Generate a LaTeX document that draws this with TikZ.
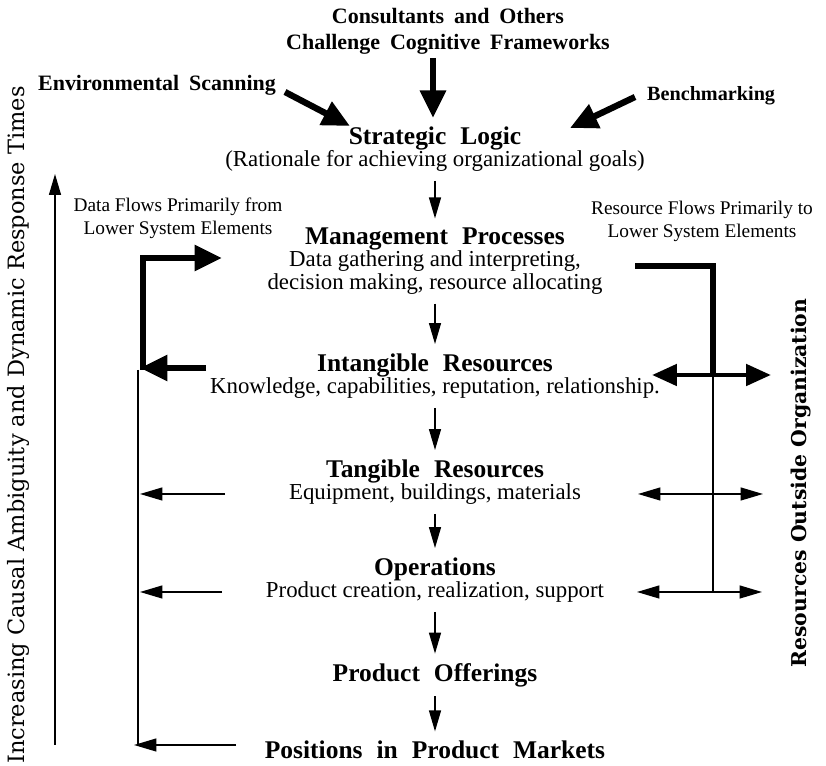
\documentclass[tikz,border=0pt]{standalone}
\usepackage{fontspec}
\setmainfont{Liberation Serif}
\newfontfamily\slabfont{DejaVu Serif}
\usetikzlibrary{arrows.meta,positioning,calc}
\newcommand{\hd}[1]{{\fontsize{14.5}{15}\selectfont\bfseries\spaceskip=0.55em\relax #1}}
\newcommand{\lblfont}{\fontsize{12.5}{15}\selectfont\bfseries\spaceskip=0.45em\relax}

\begin{document}
\begin{tikzpicture}[x=0.02cm,y=-0.02cm,
 stage/.style={align=center,inner sep=1pt,font=\fontsize{13}{12.6}\selectfont},
 inlabel/.style={align=center,inner sep=1pt,font=\lblfont},
 smalllabel/.style={align=center,inner sep=1pt,font=\fontsize{11}{13}\selectfont},
 thickline/.style={line width=3.6pt},
 thickarr/.style={line width=3.6pt,-{Triangle[length=0.55cm,width=0.5cm]}},
 dblthick/.style={line width=2.8pt,{Triangle[length=0.5cm,width=0.42cm]}-{Triangle[length=0.5cm,width=0.42cm]}},
 flowarr/.style={line width=0.8pt,-{Triangle[length=0.42cm,width=0.24cm]},shorten <=0.15cm,shorten >=0.15cm},
 sidearr/.style={line width=0.8pt,-{Triangle[length=0.45cm,width=0.26cm]}},
 dblthin/.style={line width=0.8pt,{Triangle[length=0.45cm,width=0.26cm]}-{Triangle[length=0.45cm,width=0.26cm]}}]
\useasboundingbox (0,0) rectangle (826,766);

% outside inputs
\node[inlabel] (cons) at (448,31) {Consultants and Others\\Challenge Cognitive Frameworks};
\node[inlabel] (env) at (157,85) {Environmental Scanning};
\node[inlabel,anchor=west,font=\lblfont\fontsize{11.5}{14}\selectfont] (bench) at (645,96) {Benchmarking};

% stages
\node[stage] (strat) at (435,149) {\hd{Strategic Logic}\\(Rationale for achieving organizational goals)};
\node[stage] (mgmt) at (435,261) {\hd{Management Processes}\\Data gathering and interpreting,\\decision making, resource allocating};
\node[stage] (intang) at (435,376) {\hd{Intangible Resources}\\Knowledge, capabilities, reputation, relationship.};
\node[stage] (tang) at (435,482) {\hd{Tangible Resources}\\Equipment, buildings, materials};
\node[stage] (ops) at (435,580) {\hd{Operations}\\Product creation, realization, support};
\node[stage] (offer) at (435,675) {\hd{Product Offerings}};
\node[stage] (pos) at (435,750) {\hd{Positions in Product Markets}};

\coordinate (consA) at (433,58);
\coordinate (consB) at (433,118);
\coordinate (envA) at (285,92);
\coordinate (envB) at (350,126);
\coordinate (benchA) at (635,97);
\coordinate (benchB) at (570,128);
\draw[thickarr] (consA) -- (consB);
\draw[thickarr] (envA) -- (envB);
\draw[thickarr] (benchA) -- (benchB);

\draw[flowarr] (strat) -- (mgmt);
\draw[flowarr] (mgmt) -- (intang);
\draw[flowarr] (intang) -- (tang);
\draw[flowarr] (tang) -- (ops);
\draw[flowarr] (ops) -- (offer);
\draw[flowarr] (offer) -- (pos);

% left side: data flows
\node[smalllabel] (dataflow) at (178,218) {Data Flows Primarily from\\Lower System Elements};
\coordinate (dfTop) at (143,258);
\coordinate (dfTip) at (222,258);
\coordinate (dfBot) at (143,370);
\coordinate (inStart) at (206,368);
\coordinate (inTip) at (140,368);
\draw[thickarr] (dfBot) -- (dfTop) -- (dfTip);
\draw[thickarr] (inStart) -- (inTip);
\coordinate (lineTop) at (138,370);
\coordinate (lineBot) at (138,745);
\draw[line width=0.8pt] (lineTop) -- (lineBot);
\coordinate (tangL) at (225,494);
\coordinate (tangT) at (140,494);
\coordinate (opsL) at (222,592);
\coordinate (opsT) at (140,592);
\coordinate (posL) at (236,745);
\coordinate (posT) at (134,745);
\draw[sidearr] (tangL) -- (tangT);
\draw[sidearr] (opsL) -- (opsT);
\draw[sidearr] (posL) -- (posT);

% axis
\coordinate (axBot) at (55,745);
\coordinate (axTop) at (55,174);
\draw[line width=0.8pt,-{Triangle[length=0.42cm,width=0.24cm]}] (axBot) -- (axTop);
\node[rotate=90,inner sep=0pt,font=\slabfont\fontsize{12.8}{14}\selectfont] (axislbl) at (18,425) {Increasing Causal Ambiguity and Dynamic Response Times};

% right side: resource flows
\node[smalllabel] (resflow) at (702,221) {Resource Flows Primarily to\\Lower System Elements};
\coordinate (rfStart) at (635,266);
\coordinate (rfCorner) at (713,266);
\coordinate (rfBot) at (713,375);
\draw[thickline] (rfStart) -- (rfCorner) -- (rfBot);
\coordinate (dblL) at (652,375);
\coordinate (dblR) at (771,375);
\draw[dblthick] (dblL) -- (dblR);
\coordinate (rvBot) at (713,592);
\draw[line width=0.8pt] (rfBot) -- (rvBot);
\coordinate (tangRa) at (638,494);
\coordinate (tangRb) at (763,494);
\coordinate (opsRa) at (637,592);
\coordinate (opsRb) at (762,592);
\draw[dblthin] (tangRa) -- (tangRb);
\draw[dblthin] (opsRa) -- (opsRb);
\node[rotate=90,inner sep=0pt,font=\slabfont\bfseries\fontsize{11.6}{13}\selectfont] (outlbl) at (801,483) {Resources Outside Organization};
\end{tikzpicture}
\end{document}
